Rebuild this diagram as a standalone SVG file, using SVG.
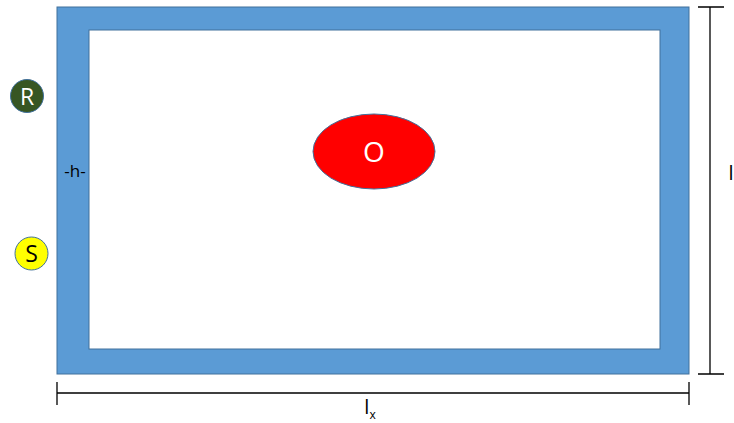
<svg xmlns="http://www.w3.org/2000/svg" width="734" height="423" viewBox="0 0 734 423">
<style>
text{font-family:"Open Sans","Liberation Sans",sans-serif}
.dim{stroke:#000;stroke-width:1.3;fill:none}
</style>
<rect width="734" height="423" fill="#fff"/>
<g id="wall">
<rect x="57" y="7" width="632" height="367" fill="#5B9BD5" stroke="#41719C" stroke-width="1"/>
<rect x="89" y="30" width="571" height="319" fill="#fff" stroke="#41719C" stroke-width="1"/>
<text x="75" y="177" font-size="17" text-anchor="middle" fill="#000">-h-</text>
</g>
<g id="O">
<ellipse cx="374" cy="151.5" rx="61" ry="37.5" fill="#FF0000" stroke="#41719C" stroke-width="1"/>
<text x="374" y="162" font-size="28" text-anchor="middle" fill="#fff">O</text>
</g>
<g id="R">
<circle cx="27" cy="96" r="16.5" fill="#375623" stroke="#41719C" stroke-width="1"/>
<text x="27" y="104.5" font-size="23" text-anchor="middle" fill="#fff">R</text>
</g>
<g id="S">
<circle cx="31.5" cy="253.5" r="16.5" fill="#FFFF00" stroke="#41719C" stroke-width="1"/>
<text x="31.5" y="262" font-size="23" text-anchor="middle" fill="#000">S</text>
</g>
<g id="connectors">
<path class="dim" d="M710 7V374M698 7H724M698 374H724"/>
<path class="dim" d="M57 393H689M57 382V405M689 382V405"/>
</g>
<text x="731" y="180" font-size="20" text-anchor="middle" fill="#000">l</text>
<text x="370" y="414" font-size="20" text-anchor="middle" fill="#000">l<tspan font-size="12" dy="5">x</tspan></text>
</svg>
